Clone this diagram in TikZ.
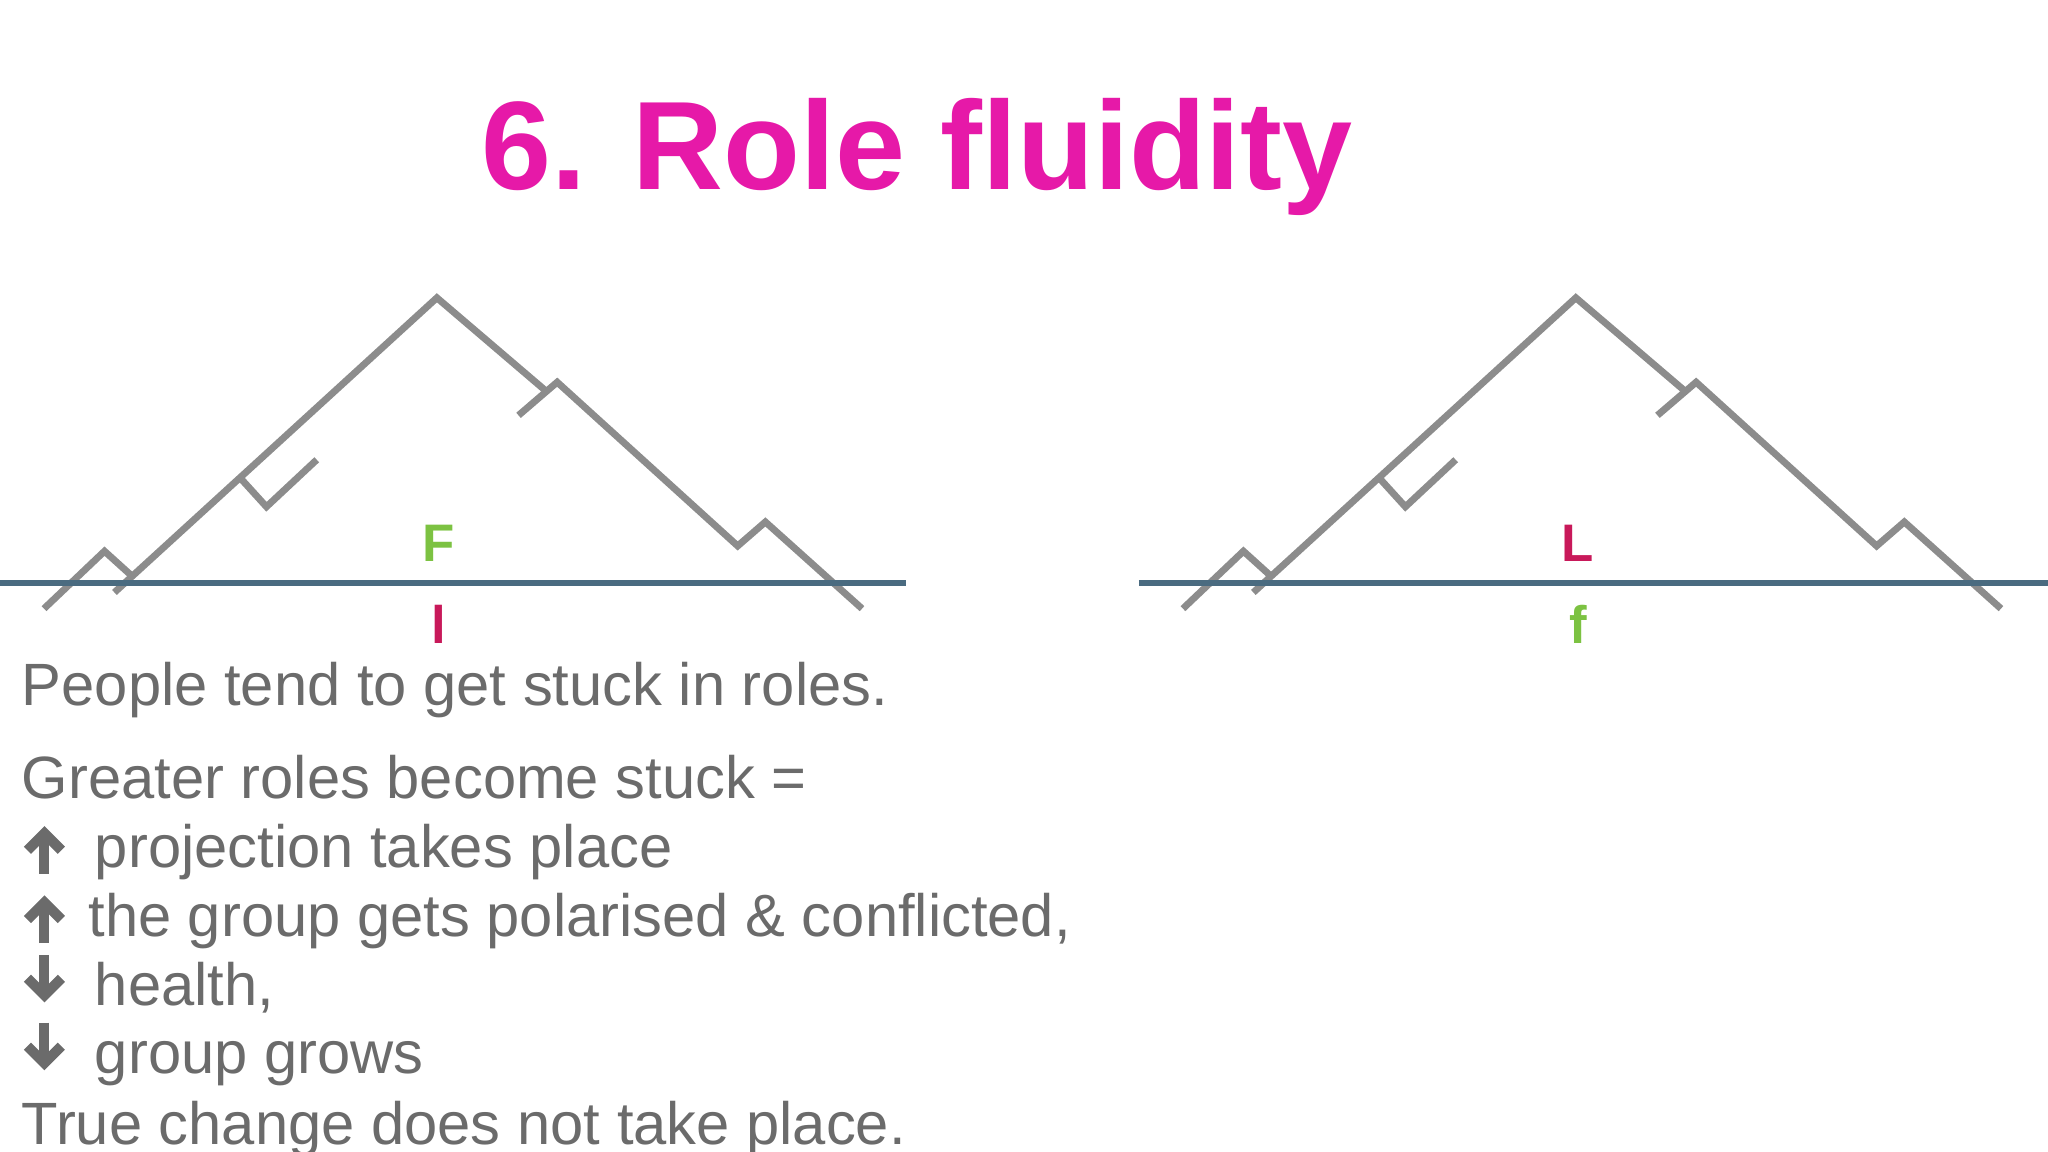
\documentclass[tikz,border=0pt]{standalone}
\usepackage{fontspec}
\setmainfont{Liberation Sans}
\definecolor{ttl}{HTML}{E619A8}
\definecolor{mtn}{HTML}{8C8C8C}
\definecolor{base}{HTML}{4A6B80}
\definecolor{txt}{HTML}{6B6B6B}
\definecolor{grn}{HTML}{7CC242}
\definecolor{red}{HTML}{C8195A}
\begin{document}
\begin{tikzpicture}[x=0.01cm,y=-0.01cm,
  mline/.style={draw=mtn,line width=1.5pt,line join=miter},
  bline/.style={draw=base,line width=1.3pt},
  lbl/.style={font=\bfseries\fontsize{11.5}{13}\selectfont},
  body/.style={anchor=base west,text=txt,font=\fontsize{13}{15}\selectfont,inner sep=0},
  arr/.style={draw=txt,line width=2.2pt}]
\useasboundingbox (0,0) rectangle (1568,882);
\node[text=ttl,font=\bfseries\fontsize{27.4}{31}\selectfont] (title) at (702,120) {6. Role fluidity};
\foreach \dx/\nm/\top/\tc/\bot/\bc in {0/a/F/grn/l/red, 872/b/L/red/f/grn}{
  \begin{scope}[xshift=\dx*0.01cm]
  \draw[mline] (33.7,466) -- (80,422) -- (101,441);
  \draw[mline] (87.6,453.6) -- (334.5,228) -- (417.6,299);
  \draw[mline] (184,366) -- (204,388) -- (242.5,352);
  \draw[mline] (397,318) -- (426.6,292.6) -- (564.8,418) -- (586,399.6) -- (660,466);
  \draw[bline] (0,446) -- (694,446);
  \node[lbl,text=\tc] (top\nm) at (336,416) {\top};
  \node[lbl,text=\bc] (bot\nm) at (336,478) {\bot};
  \end{scope}
}
\draw[bline] (873,446) -- (1568,446);
\node[body] (t1) at (16,540) {People tend to get stuck in roles.};
\node[body] (t2) at (16,611) {Greater roles become stuck =};
\node[body] (t3) at (72,664) {projection takes place};
\node[body] (t4) at (67,717) {the group gets polarised \& conflicted,};
\node[body] (t5) at (72,770) {health,};
\node[body] (t6) at (72,822) {group grows};
\node[body] (t7) at (16,876) {True change does not take place.};
\foreach \y in {651,704}{
  \draw[arr] (34,\y+18) -- (34,\y-14);
  \draw[arr,line join=miter] (21,\y) -- (34,\y-13) -- (47,\y);}
\foreach \y in {749,801}{
  \draw[arr] (34,\y-18) -- (34,\y+14);
  \draw[arr,line join=miter] (21,\y) -- (34,\y+13) -- (47,\y);}
\end{tikzpicture}
\end{document}
